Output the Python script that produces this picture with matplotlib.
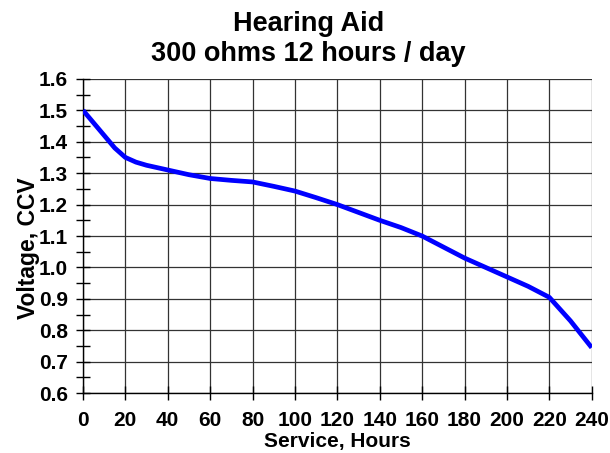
import numpy as np
import matplotlib.pyplot as plt
from matplotlib.ticker import MultipleLocator

# service hours vs closed-circuit voltage
hours = [0, 10, 15, 20, 25, 30, 40, 50, 60, 70, 80, 90, 100, 110, 120,
         130, 140, 150, 160, 170, 180, 190, 200, 210, 220, 230, 240]
voltage = [1.500, 1.420, 1.380, 1.350, 1.335, 1.325, 1.310, 1.295, 1.283,
           1.277, 1.272, 1.258, 1.243, 1.222, 1.200, 1.175, 1.150, 1.127,
           1.100, 1.065, 1.030, 1.000, 0.970, 0.940, 0.905, 0.830, 0.745]

x_ticks = list(range(0, 241, 20))
y_ticks = [0.6, 0.7, 0.8, 0.9, 1.0, 1.1, 1.2, 1.3, 1.4, 1.5, 1.6]

plt.rcParams['font.family'] = ['Liberation Sans', 'DejaVu Sans']
plt.rcParams['font.weight'] = 'bold'

fig = plt.figure(figsize=(6.1, 4.53), dpi=100)
ax = fig.add_axes([0.136, 0.132, 0.834, 0.694])

ax.plot(hours, voltage, color='#0000ff', linewidth=3.4, solid_capstyle='butt', zorder=3)

ax.set_xlim(0, 240)
ax.set_ylim(0.6, 1.6)
ax.set_xticks(x_ticks)
ax.set_yticks(y_ticks)
ax.set_yticklabels([f'{v:.1f}' for v in y_ticks])
ax.yaxis.set_minor_locator(MultipleLocator(0.05))

ax.grid(True, which='major', color='#333333', linewidth=0.9)
ax.set_axisbelow(True)

for side in ['top', 'right']:
    ax.spines[side].set_visible(False)
for side in ['left', 'bottom']:
    ax.spines[side].set_color('black')
    ax.spines[side].set_linewidth(1.0)

ax.tick_params(axis='both', which='major', direction='inout', length=10,
               width=1.0, labelsize=15, pad=6)
ax.tick_params(axis='y', which='minor', direction='inout', length=10, width=1.0)
ax.tick_params(axis='x', which='major', pad=8)

ax.set_xlabel('Service, Hours', fontsize=15, fontweight='bold', labelpad=1)
ax.set_ylabel('Voltage, CCV', fontsize=16.5, fontweight='bold', labelpad=1)
ax.yaxis.set_label_coords(-0.085, 0.46)

fig.suptitle('Hearing Aid\n300 ohms 12 hours / day', fontsize=19.5,
             fontweight='bold', x=0.506, y=0.975, linespacing=1.2)

fig.savefig('out.png', dpi=100)
